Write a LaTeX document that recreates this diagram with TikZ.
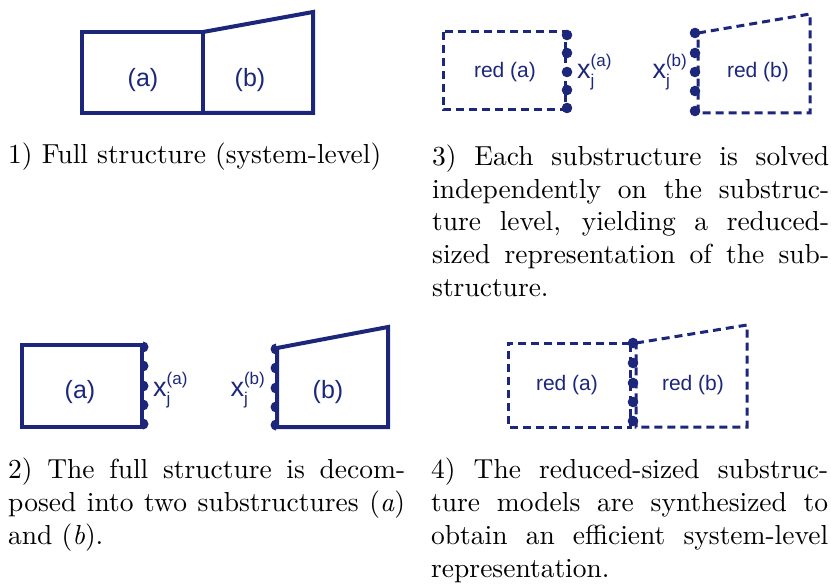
\documentclass[tikz,border=0pt]{standalone}
\usepackage{fontspec}
\setmainfont{lmroman10-regular.otf}[ItalicFont=lmroman10-italic.otf, BoldFont=lmroman10-bold.otf]
\newfontfamily\labelfont{Liberation Sans}
\definecolor{struct}{RGB}{28,38,122}
\tikzset{
  full/.style={draw=struct, line width=4pt, line join=miter},
  reduced/.style={draw=struct, line width=3pt, dash pattern=on 8pt off 5pt},
  lbl/.style={text=struct, inner sep=0pt, font=\labelfont\fontsize{25}{25}\selectfont},
  redlbl/.style={text=struct, inner sep=0pt, font=\labelfont\fontsize{21}{21}\selectfont},
  dof/.style={text=struct, inner sep=0pt, font=\labelfont\fontsize{27}{27}\selectfont},
  stagetext/.style={text width=397pt, align=justify, inner sep=0pt, anchor=base west,
    font=\fontsize{27.5}{33}\selectfont},
}
% interface dofs x_j^{(.)}
\newcommand{\iface}[1]{x\rlap{\raisebox{-0.5ex}{\fontsize{17}{17}\selectfont j}}\raisebox{0.85ex}{\fontsize{17}{17}\selectfont(#1)}}

\begin{document}
\begin{tikzpicture}[x=1pt, y=-1pt]
\useasboundingbox (0,0) rectangle (831,586);

% 1) full structure
\draw[full] (82,32) rectangle (203,113);
\draw[full] (203,32) -- (313,12) -- (313,113) -- (203,113);
\node[lbl] (fa) at (143,80) {(a)};
\node[lbl] (fb) at (250,80) {(b)};

% 2) decomposed substructures
\draw[full] (22,345) rectangle (142,427);
\foreach \y in {347,366,386,405,424}
  \fill[struct] (143,\y) ++(0,-5.5) arc (-90:90:5.5) -- cycle;
\node[dof, anchor=west] (da) at (153,390) {\iface{a}};
\node[lbl] (sa) at (80,392) {(a)};
\draw[full] (277,348) -- (388,327) -- (388,427) -- (277,427) -- cycle;
\foreach \y in {349,368,388,407,425}
  \fill[struct] (276,\y) ++(0,-5.5) arc (270:90:5.5) -- cycle;
\node[dof, anchor=east] (db) at (265,390) {\iface{b}};
\node[lbl] (sb) at (328,392) {(b)};

% 3) reduced substructures
\draw[reduced] (443,32) rectangle (565,110);
\foreach \y in {35,53,72,90,108}
  \fill[struct] (567,\y) circle (5.3);
\node[redlbl] (ra) at (505,72) {red (a)};
\node[dof, anchor=west] (ia) at (577,72) {\iface{a}};
\draw[reduced] (698,33) -- (810,14) -- (810,113) -- (698,113) -- cycle;
\foreach \y in {33,53,72,91,111}
  \fill[struct] (695,\y) circle (5.3);
\node[dof, anchor=east] (ib) at (687,72) {\iface{b}};
\node[redlbl] (rb) at (758,72) {red (b)};

% 4) assembled reduced model
\draw[reduced] (630,343) -- (508,343) -- (508,427) -- (630,427) -- cycle;
\draw[reduced] (636,343) -- (747,325) -- (747,427) -- (636,427) -- cycle;
\foreach \y in {343,363,383,402,421}
  \fill[struct] (633,\y) circle (5.3);
\node[redlbl] (ca) at (567,385) {red (a)};
\node[redlbl] (cb) at (693,385) {red (b)};

% captions
\node[stagetext] (t1) at (8,164) {1) Full structure (system-level)};
\node[stagetext] (t3) at (432,165) {3) Each substructure is solved\linebreak
  independently on the substruc-\linebreak
  ture level, yielding a reduced-\linebreak
  sized representation of the sub-\linebreak
  structure.};
\node[stagetext] (t2) at (8,478) {2) The full structure is decom-\linebreak
  posed into two substructures (\textit{a})\linebreak
  and (\textit{b}).};
\node[stagetext] (t4) at (431,478) {4) The reduced-sized substruc-\linebreak
  ture models are synthesized to\linebreak
  obtain an efficient system-level\linebreak
  representation.};
\end{tikzpicture}
\end{document}
